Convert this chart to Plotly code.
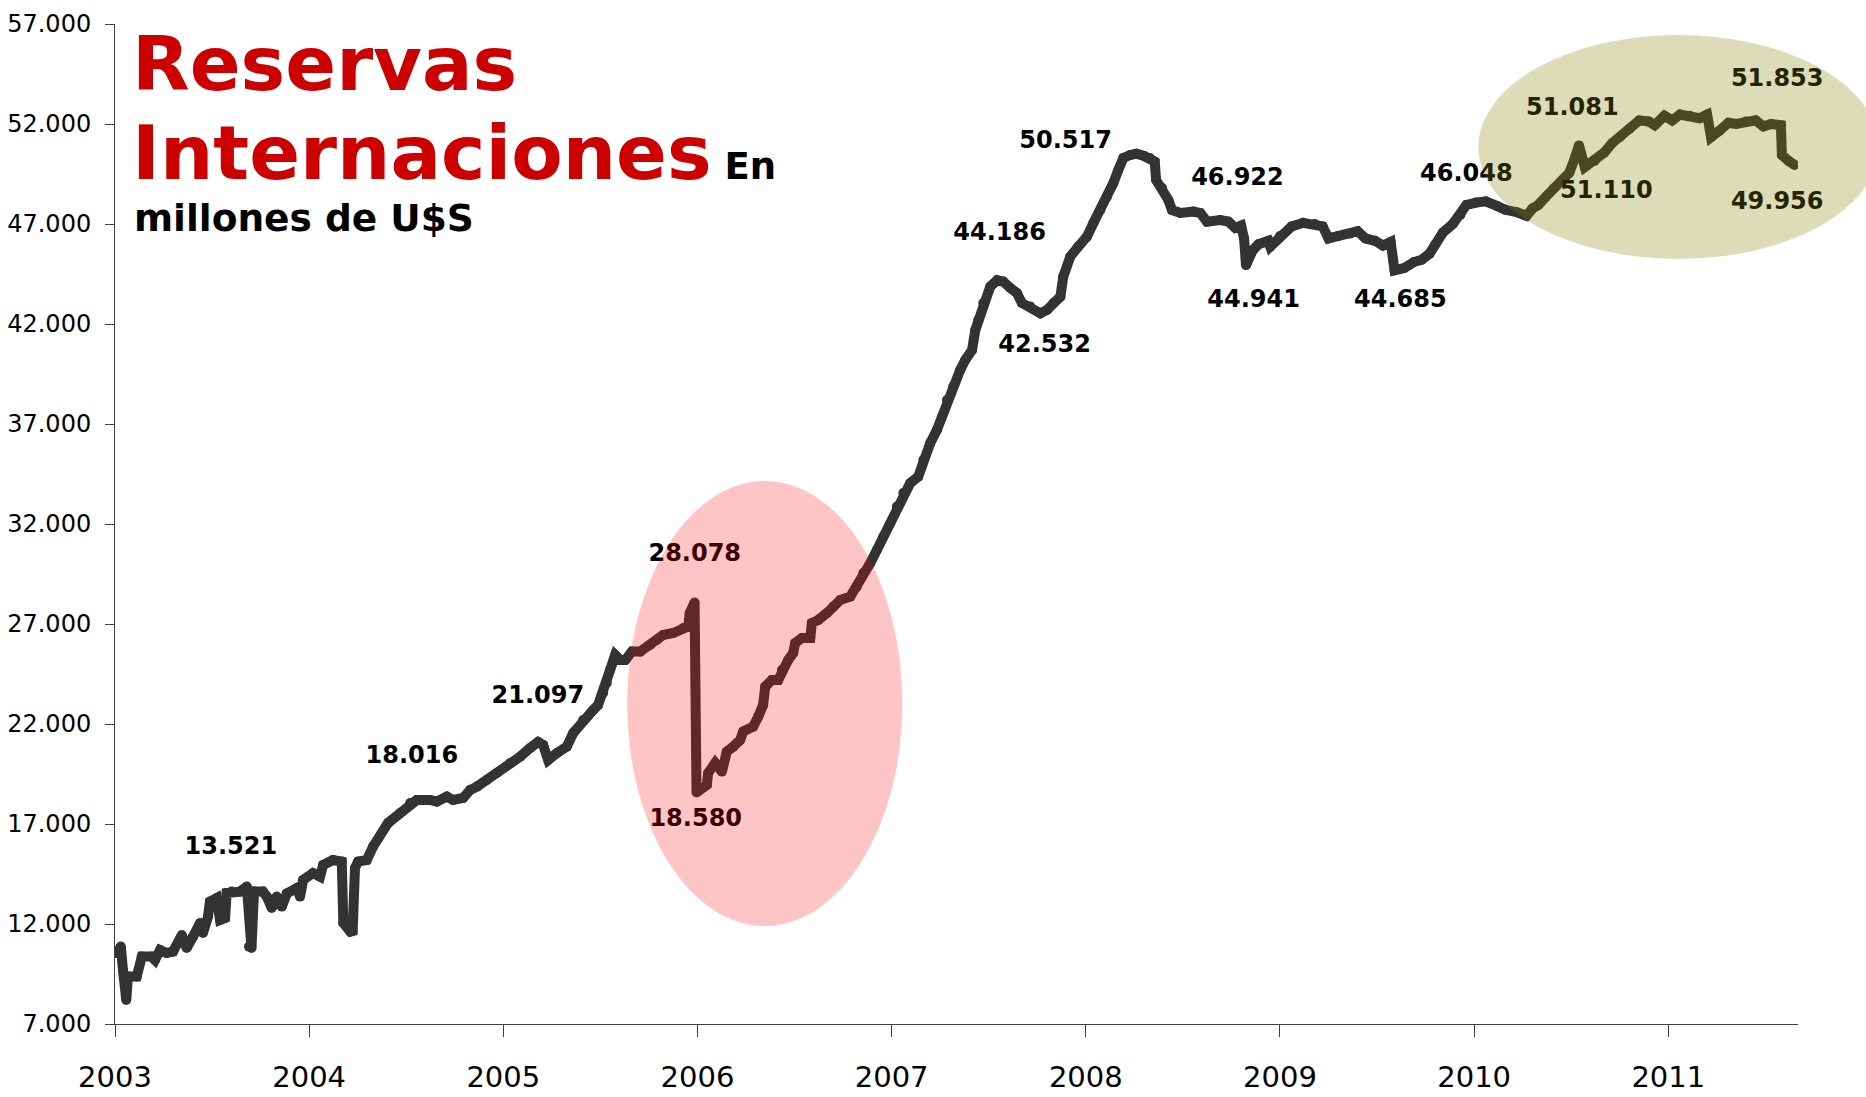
import plotly.graph_objects as go

# ---------------- data ----------------
years = [
    2003.009, 2003.030, 2003.041, 2003.058, 2003.067, 2003.112, 2003.138, 2003.189, 2003.206, 2003.232,
    2003.266, 2003.299, 2003.344, 2003.369, 2003.402, 2003.438, 2003.453, 2003.479, 2003.489, 2003.524,
    2003.541, 2003.567, 2003.575, 2003.601, 2003.644, 2003.679, 2003.690, 2003.703, 2003.716, 2003.762,
    2003.782, 2003.807, 2003.833, 2003.859, 2003.885, 2003.936, 2003.953, 2003.969, 2004.020, 2004.056,
    2004.072, 2004.123, 2004.168, 2004.176, 2004.212, 2004.224, 2004.236, 2004.252, 2004.297, 2004.329,
    2004.406, 2004.468, 2004.520, 2004.554, 2004.623, 2004.657, 2004.709, 2004.741, 2004.793, 2004.829,
    2004.864, 2004.915, 2004.967, 2005.035, 2005.087, 2005.138, 2005.179, 2005.205, 2005.231, 2005.276,
    2005.327, 2005.360, 2005.411, 2005.463, 2005.488, 2005.514, 2005.533, 2005.550, 2005.576, 2005.602,
    2005.628, 2005.662, 2005.705, 2005.756, 2005.791, 2005.823, 2005.875, 2005.926, 2005.952, 2005.960,
    2005.985, 2005.995, 2006.048, 2006.055, 2006.091, 2006.126, 2006.151, 2006.184, 2006.220, 2006.235,
    2006.287, 2006.313, 2006.338, 2006.349, 2006.383, 2006.416, 2006.435, 2006.467, 2006.493, 2006.503,
    2006.538, 2006.581, 2006.589, 2006.622, 2006.667, 2006.699, 2006.735, 2006.787, 2006.821, 2006.854,
    2006.890, 2006.924, 2006.957, 2006.993, 2007.027, 2007.060, 2007.096, 2007.137, 2007.163, 2007.199,
    2007.233, 2007.259, 2007.285, 2007.317, 2007.353, 2007.379, 2007.414, 2007.431, 2007.446, 2007.472,
    2007.508, 2007.543, 2007.575, 2007.611, 2007.645, 2007.671, 2007.714, 2007.766, 2007.800, 2007.833,
    2007.869, 2007.884, 2007.920, 2007.961, 2008.006, 2008.039, 2008.075, 2008.109, 2008.142, 2008.167,
    2008.193, 2008.229, 2008.260, 2008.300, 2008.330, 2008.355, 2008.362, 2008.393, 2008.425, 2008.444,
    2008.487, 2008.554, 2008.590, 2008.624, 2008.693, 2008.734, 2008.770, 2008.800, 2008.815, 2008.825,
    2008.860, 2008.890, 2008.940, 2008.950, 2009.000, 2009.060, 2009.120, 2009.180, 2009.220, 2009.250,
    2009.300, 2009.360, 2009.400, 2009.440, 2009.490, 2009.530, 2009.570, 2009.590, 2009.640, 2009.690,
    2009.730, 2009.770, 2009.800, 2009.840, 2009.890, 2009.930, 2009.960, 2010.010, 2010.060, 2010.120,
    2010.160, 2010.220, 2010.270, 2010.300, 2010.330, 2010.370, 2010.410, 2010.450, 2010.490, 2010.520,
    2010.540, 2010.570, 2010.620, 2010.670, 2010.710, 2010.750, 2010.800, 2010.850, 2010.900, 2010.930,
    2010.980, 2011.020, 2011.060, 2011.110, 2011.160, 2011.200, 2011.220, 2011.260, 2011.310, 2011.350,
    2011.400, 2011.450, 2011.490, 2011.530, 2011.580, 2011.585, 2011.620, 2011.650,
]

reserves = [
    10550, 10870, 9700, 8200, 9370, 9370, 10370, 10370, 10200, 10700,
    10550, 10620, 11450, 10800, 11370, 12050, 11550, 12370, 13120, 13300,
    12200, 12300, 13550, 13620, 13620, 13870, 10870, 10800, 13620, 13620,
    13370, 12800, 13370, 12870, 13530, 13800, 13370, 14200, 14550, 14370,
    14950, 15200, 15120, 12050, 11620, 11650, 14800, 15120, 15200, 15870,
    17050, 17550, 18050, 18200, 18200, 18120, 18370, 18200, 18300, 18700,
    18870, 19200, 19550, 20050, 20370, 20800, 21097, 20950, 20200, 20550,
    20870, 21550, 22200, 22700, 22950, 23550, 24050, 24700, 25450, 25200,
    25200, 25620, 25620, 25950, 26200, 26450, 26550, 26800, 26870, 27550,
    28078, 18580, 18950, 19550, 20050, 19620, 20620, 20870, 21200, 21620,
    21870, 22370, 22950, 23870, 24200, 24200, 24700, 25200, 25550, 26050,
    26300, 26300, 27050, 27200, 27550, 27870, 28200, 28370, 28870, 29550,
    30050, 30700, 31370, 32050, 32870, 33550, 34050, 34370, 35200, 36050,
    36700, 37370, 38200, 38870, 39700, 40200, 40700, 41700, 42200, 43050,
    43870, 44186, 44120, 43800, 43550, 43050, 42870, 42532, 42700, 43050,
    43370, 44370, 45370, 45870, 46370, 47050, 47700, 48370, 49050, 49700,
    50300, 50450, 50517, 50400, 50300, 50120, 49200, 48800, 48200, 47700,
    47550, 47620, 47550, 47120, 47200, 47120, 46800, 46922, 46280, 44941,
    45690, 45990, 46160, 45870, 46400, 46880, 47060, 47000, 46880, 46280,
    46400, 46520, 46640, 46280, 46160, 45920, 46100, 44685, 44800, 45100,
    45210, 45510, 45990, 46580, 47000, 47470, 47950, 48070, 48130, 47890,
    47710, 47590, 47410, 47770, 47950, 48370, 48780, 49140, 49560, 50330,
    50930, 49850, 50150, 50570, 51040, 51340, 51760, 52180, 52120, 51940,
    52410, 52180, 52470, 52410, 52290, 52470, 51340, 51640, 52060, 52000,
    52120, 52180, 51880, 52000, 51940, 50450, 50150, 49956,
]

label_text = ["13.521", "18.016", "21.097", "28.078", "18.580", "44.186", "42.532", "50.517",
              "46.922", "46.048", "44.941", "44.685", "51.081", "51.853", "51.110", "49.956"]
label_x = [2003.597, 2004.529, 2005.178, 2005.986, 2005.991, 2007.556, 2007.788, 2007.896,
           2008.781, 2009.960, 2008.864, 2009.620, 2010.506, 2011.561, 2010.681, 2011.561]
label_y = [15820, 20370, 23370, 30470, 17220, 46520, 40920, 51120,
           49270, 49470, 43170, 43170, 52770, 54220, 48620, 48070]

x_tick_vals = [2003, 2004, 2005, 2006, 2007, 2008, 2009, 2010, 2011]
x_tick_text = ["2003", "2004", "2005", "2006", "2007", "2008", "2009", "2010", "2011"]
y_tick_vals = [7000, 12000, 17000, 22000, 27000, 32000, 37000, 42000, 47000, 52000, 57000]
y_tick_text = ["7.000", "12.000", "17.000", "22.000", "27.000", "32.000",
               "37.000", "42.000", "47.000", "52.000", "57.000"]

FONT = "DejaVu Sans"
LINE_COLOR = "#333333"
AXIS_COLOR = "#404040"

fig = go.Figure()

fig.add_trace(go.Scatter(
    x=years, y=reserves, mode="lines+markers",
    line=dict(color=LINE_COLOR, width=10),
    marker=dict(color=LINE_COLOR, size=10),
    hoverinfo="skip", showlegend=False,
))

fig.add_trace(go.Scatter(
    x=label_x, y=label_y, mode="text", text=label_text,
    textposition="middle center",
    textfont=dict(family=FONT, size=24, color="black", weight="bold"),
    cliponaxis=False, hoverinfo="skip", showlegend=False,
))

# highlight ellipses (drawn above the line, semi-transparent)
fig.add_shape(type="circle", xref="x", yref="y",
              x0=2005.638, x1=2007.055, y0=11900, y1=34150,
              fillcolor="rgba(255,0,0,0.23)", line=dict(width=0), layer="above")
fig.add_shape(type="circle", xref="paper", yref="paper",
              x0=0.8101, x1=1.0478, y0=0.765, y1=0.989,
              fillcolor="rgba(128,128,0,0.28)", line=dict(width=0), layer="above")

# title block
fig.add_annotation(xref="paper", yref="paper", x=0.0089, y=0.960,
                   xanchor="left", yanchor="middle", showarrow=False,
                   text="<b>Reservas</b>",
                   font=dict(family=FONT, size=75, color="#cc0000"))
fig.add_annotation(xref="paper", yref="paper", x=0.0089, y=0.871,
                   xanchor="left", yanchor="middle", showarrow=False,
                   text="<b>Internaciones<span style='font-size:37px;color:#000000'> En</span></b>",
                   font=dict(family=FONT, size=75, color="#cc0000"))
fig.add_annotation(xref="paper", yref="paper", x=0.0102, y=0.8065,
                   xanchor="left", yanchor="middle", showarrow=False,
                   text="<b>millones de U$S</b>",
                   font=dict(family=FONT, size=37.5, color="#000000"))

fig.update_layout(
    width=1866, height=1097,
    margin=dict(l=115, r=68, t=24, b=73, autoexpand=False),
    paper_bgcolor="white", plot_bgcolor="white",
    showlegend=False,
    xaxis=dict(
        range=[2003, 2011.668], tickmode="array",
        tickvals=x_tick_vals, ticktext=x_tick_text,
        ticks="outside", ticklen=12, tickwidth=1, tickcolor=AXIS_COLOR,
        showline=True, linecolor=AXIS_COLOR, linewidth=1,
        showgrid=False, zeroline=False, automargin=False,
        tickfont=dict(family=FONT, size=29, color="#000000"),
        ticklabelstandoff=15,
    ),
    yaxis=dict(
        range=[7000, 57000], tickmode="array",
        tickvals=y_tick_vals, ticktext=y_tick_text,
        ticks="outside", ticklen=9, tickwidth=1, tickcolor=AXIS_COLOR,
        showline=True, linecolor=AXIS_COLOR, linewidth=1,
        showgrid=False, zeroline=False, automargin=False,
        tickfont=dict(family=FONT, size=24, color="#000000"),
        ticklabelstandoff=9,
    ),
)

fig.write_html("out.html", config={"displayModeBar": False},
               post_script="document.body.style.margin='0px';")
